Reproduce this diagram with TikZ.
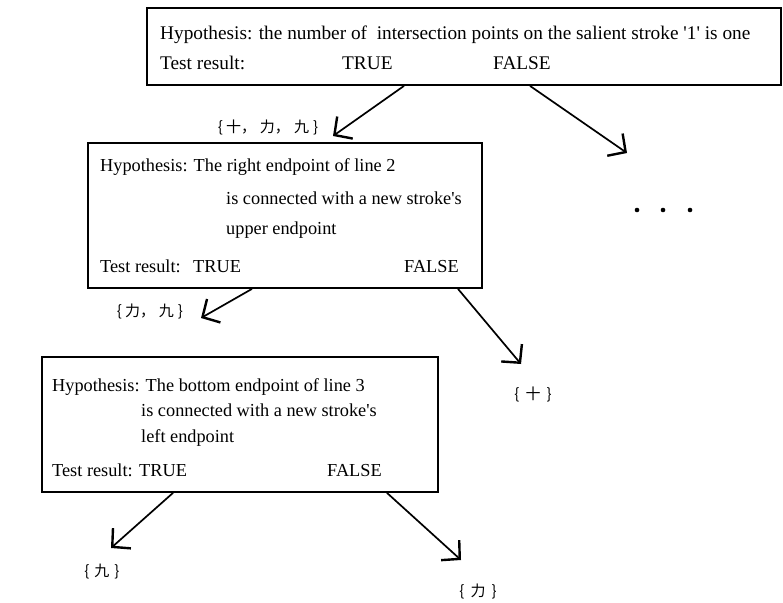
\documentclass[tikz,border=0pt]{standalone}
\usepackage{fontspec}
\setmainfont{Liberation Serif}
\newfontfamily\cjk{Noto Sans CJK SC}
\usetikzlibrary{arrows.meta}
\begin{document}
\begin{tikzpicture}[x=1pt,y=-1pt,
  box/.style={draw, line width=1.8pt, inner sep=0pt},
  tA/.style={anchor=base west, inner sep=0pt, font=\fontsize{19.3}{22}\selectfont},
  tB/.style={anchor=base west, inner sep=0pt, font=\fontsize{18.3}{22}\selectfont},
  lab/.style={inner sep=0pt, font=\cjk\fontsize{15}{17}\selectfont},
  arr/.style={line width=1.7pt, -{Straight Barb[length=13pt,width=27pt,line width=2.4pt]}},
  dot/.style={circle, fill, inner sep=0pt, minimum size=4.6pt}]
\useasboundingbox (0,0) rectangle (783,602);
% boxes
\node[box, minimum width=634pt, minimum height=77pt] (b1) at (464,46.5) {};
\node[box, minimum width=394pt, minimum height=145pt] (b2) at (285,215.5) {};
\node[box, minimum width=396pt, minimum height=135pt] (b3) at (240,424.5) {};
% box 1 text
\node[tA] (h1) at (160,40) {Hypothesis: the number of\ \ intersection points on the salient stroke \textquotesingle 1\textquotesingle\ is one};
\node[tA] (r1) at (160,69) {Test result:};
\node[tA] (t1) at (342,69) {TRUE};
\node[tA] (f1) at (493,69) {FALSE};
% box 2 text
\node[tB] (h2) at (100,171) {Hypothesis: The right endpoint of line 2};
\node[tB] (h2b) at (226,204) {is connected with a new stroke\textquotesingle s};
\node[tB] (h2c) at (226,234) {upper endpoint};
\node[tB] (r2) at (100,272) {Test result:};
\node[tB] (t2) at (193,272) {TRUE};
\node[tB] (f2) at (404,272) {FALSE};
% box 3 text
\node[tB] (h3) at (52,391) {Hypothesis: The bottom endpoint of line 3};
\node[tB] (h3b) at (141,416) {is connected with a new stroke\textquotesingle s};
\node[tB] (h3c) at (141,442) {left endpoint};
\node[tB] (r3) at (52,476) {Test result:};
\node[tB] (t3) at (139,476) {TRUE};
\node[tB] (f3) at (327,476) {FALSE};
% labels
\node[lab] (l1) at (268,127) {\{\hspace{3pt}十，\hspace{4pt}力，\hspace{4pt}九\hspace{4pt}\}};
\node[lab] (l2) at (150,311) {\{\hspace{3pt}力，\hspace{4pt}九\hspace{4pt}\}};
\node[lab] (l3) at (533,394) {\{\hspace{6pt}十\hspace{6pt}\}};
\node[lab] (l4) at (102,572) {\{\hspace{5pt}九\hspace{5pt}\}};
\node[lab] (l5) at (478,591) {\{\hspace{6pt}力\hspace{6pt}\}};
% dots
\node[dot] (d1) at (637,210) {};
\node[dot] (d2) at (663,210) {};
\node[dot] (d3) at (690,210) {};
% arrow coordinates
\coordinate (a1s) at (404,86);  \coordinate (a1e) at (333,136);
\coordinate (a2s) at (530,86);  \coordinate (a2e) at (627,153);
\coordinate (a3s) at (252,289); \coordinate (a3e) at (201,318);
\coordinate (a4s) at (458,289); \coordinate (a4e) at (521,364);
\coordinate (a5s) at (173,493); \coordinate (a5e) at (111,548);
\coordinate (a6s) at (387,493); \coordinate (a6e) at (461,560);
\draw[arr] (b1.south -| a1s) -- (a1e);
\draw[arr] (b1.south -| a2s) -- (a2e);
\draw[arr] (b2.south -| a3s) -- (a3e);
\draw[arr] (b2.south -| a4s) -- (a4e);
\draw[arr] (b3.south -| a5s) -- (a5e);
\draw[arr] (b3.south -| a6s) -- (a6e);
\end{tikzpicture}
\end{document}
